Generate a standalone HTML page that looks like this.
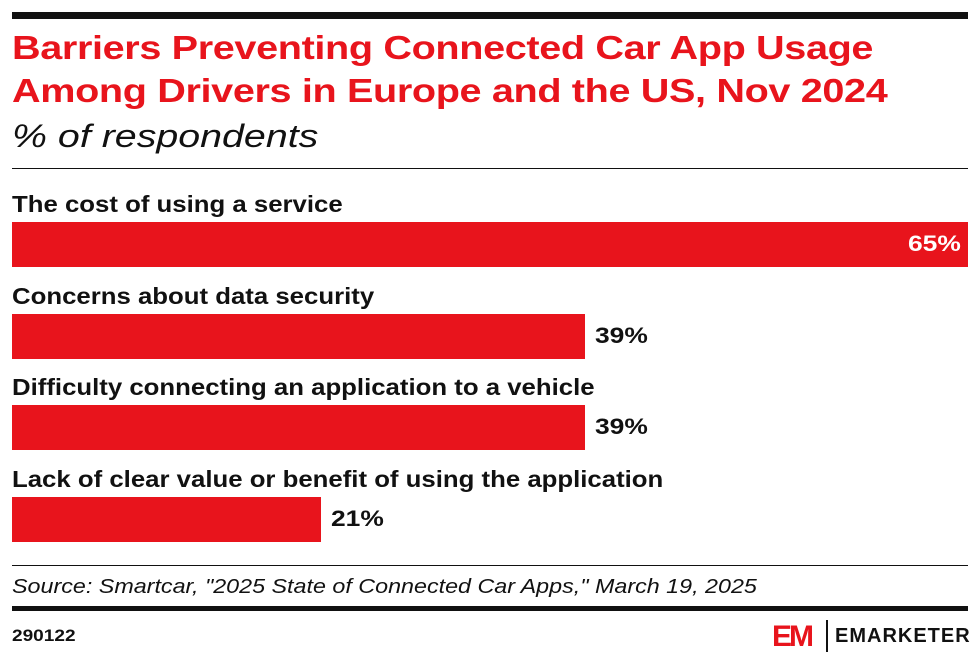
<!DOCTYPE html>
<html><head><style>
body{margin:0;width:980px;height:664px;background:#fff;font-family:"Liberation Sans",sans-serif;position:relative;overflow:hidden}
div{position:absolute;transform-origin:left top;white-space:nowrap}
.lab{left:12px;font-size:23px;font-weight:bold;color:#111;transform:scaleX(1.12)}
.bar{left:12px;background:#e8141c;height:45px}
.val{font-size:22px;font-weight:bold;color:#111;transform:scaleX(1.2)}
</style></head><body>
<div style="left:12px;top:12px;width:956px;height:7px;background:#111"></div>
<div style="left:12px;top:26px;font-size:33px;font-weight:bold;color:#e8141c;line-height:43px;letter-spacing:-0.3px;transform:scaleX(1.2)">Barriers Preventing Connected Car App Usage<br>Among Drivers in Europe and the US, Nov 2024</div>
<div style="left:12px;top:118px;font-size:32px;font-style:italic;color:#111;transform:scaleX(1.23)">% of respondents</div>
<div style="left:12px;top:168px;width:956px;height:1px;background:#111"></div>
<div class="lab" style="top:191px">The cost of using a service</div>
<div class="bar" style="top:222px;width:956px"></div>
<div class="val" style="top:231px;left:908px;color:#fff">65%</div>
<div class="lab" style="top:283px">Concerns about data security</div>
<div class="bar" style="top:314px;width:573px"></div>
<div class="val" style="top:323px;left:595px">39%</div>
<div class="lab" style="top:374px">Difficulty connecting an application to a vehicle</div>
<div class="bar" style="top:405px;width:573px"></div>
<div class="val" style="top:414px;left:595px">39%</div>
<div class="lab" style="top:466px">Lack of clear value or benefit of using the application</div>
<div class="bar" style="top:497px;width:309px"></div>
<div class="val" style="top:506px;left:331px">21%</div>
<div style="left:12px;top:565px;width:956px;height:1px;background:#111"></div>
<div style="left:12px;top:576px;font-size:20px;font-style:italic;color:#111;transform:scaleX(1.165)">Source: Smartcar, "2025 State of Connected Car Apps," March 19, 2025</div>
<div style="left:12px;top:606px;width:956px;height:5px;background:#111"></div>
<div style="left:12px;top:626px;font-size:17px;font-weight:bold;color:#111;transform:scaleX(1.12)">290122</div>
<div style="left:772px;top:622px;font-size:30px;font-weight:900;color:#e8141c;letter-spacing:-3px;line-height:30px">EM</div>
<div style="left:826px;top:620px;width:2px;height:32px;background:#111"></div>
<div style="left:835px;top:625px;font-size:20px;font-weight:bold;color:#111;letter-spacing:1px">EMARKETER</div>
</body></html>
